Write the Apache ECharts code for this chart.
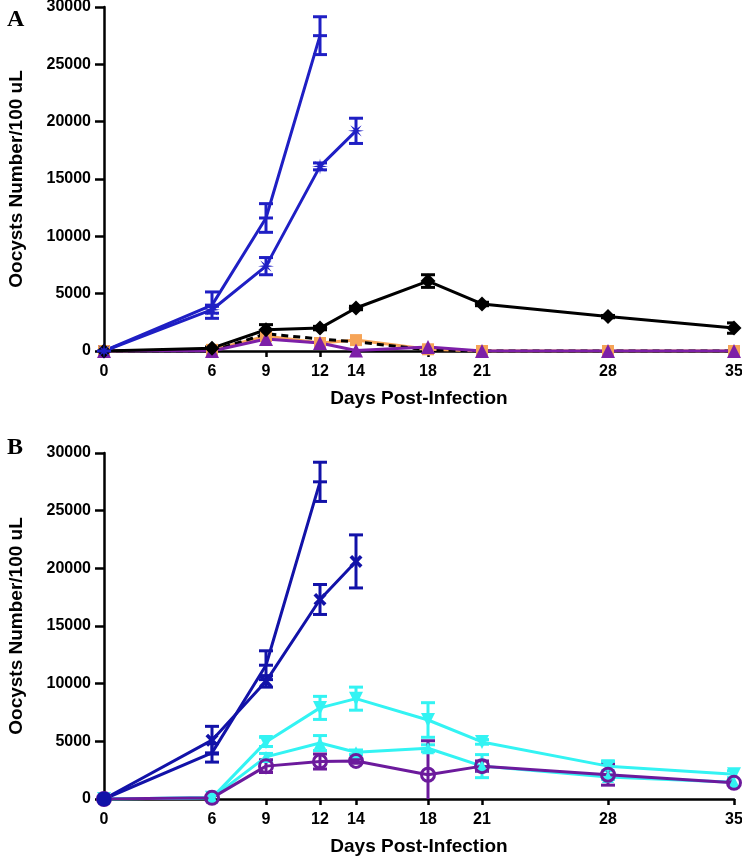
<!DOCTYPE html>
<html><head><meta charset="utf-8">
<script src="https://cdn.jsdelivr.net/npm/echarts@6/dist/echarts.min.js"></script>
<style>html,body{margin:0;padding:0;background:#fff}#c{width:742px;height:856px}</style>
</head><body><div id="c"></div>
<script>
const days = [0, 6, 9, 12, 14, 18, 21, 28, 35];
const xTickLabels = [0, 6, 9, 12, 14, 18, 21, 28, 35];

// Panel A
const aBlue1 = [0, 4000, 11600, 27500];
const aBlue1Err = [0, 1150, 1250, 1650];
const aBlue2 = [0, 3600, 7400, 16100, 19200];
const aBlue2Err = [0, 300, 750, 300, 1100];
const aBlack = [0, 250, 1850, 2000, 3750, 6100, 4100, 3000, 2000];
const aBlackErr = [0, 100, 450, 150, 150, 550, 150, 100, 450];
const aBlackDash = [0, 0, 1500, 1050, 800, 100, 0, 0, 0];
const aOrange = [0, 100, 1300, 700, 950, 150, 0, 0, 0];
const aPurple = [0, 0, 1050, 700, 50, 350, 0, 0, 0];

// Panel B
const bBlue1 = [0, 4000, 11600, 27500];
const bBlue1Err = [0, 800, 1250, 1700];
const bBlue2 = [0, 5100, 10200, 17300, 20600];
const bBlue2Err = [0, 1200, 500, 1300, 2300];
const bCyan1 = [0, 100, 4950, 7900, 8700, 6850, 4950, 2850, 2150];
const bCyan1Err = [0, 0, 400, 1000, 1000, 1500, 200, 400, 300];
const bCyan2 = [0, 100, 3650, 4850, 4050, 4400, 2850, 1900, 1450];
const bCyan2Err = [0, 0, 300, 650, 200, 300, 1000, 200, 150];
const bPurple = [0, 100, 2850, 3250, 3300, 2100, 2850, 2100, 1400];
const bPurpleErr = [0, 0, 550, 650, 200, 2950, 450, 900, 150];

const BLUE_A = '#1f1fc4', BLUE_B = '#1212a8', BLACK = '#000000',
      ORANGE = '#f6a457', PURPLE_A = '#7d1fa8', CYAN = '#33f3f3', PURPLE_B = '#6c1a9c';

const X_PATH = 'path://M0,2 L2,0 L5,3 L8,0 L10,2 L7,5 L10,8 L8,10 L5,7 L2,10 L0,8 L3,5 Z';
function starPath(){
  let s = 'path://';
  for (let i = 0; i < 16; i++) {
    const r = i % 2 === 0 ? 10 : 3;
    const a = Math.PI * i / 8 - Math.PI / 2;
    s += (i === 0 ? 'M' : 'L') + (10 + r * Math.cos(a)).toFixed(2) + ',' + (10 + r * Math.sin(a)).toFixed(2) + ' ';
  }
  return s + 'Z';
}
const STAR_PATH = starPath();

function pts(vals){
  const out = [];
  vals.forEach((v, i) => { if (v != null) out.push([days[i], v]); });
  return out;
}
function lineSeries(g, vals, color, symbol, size, extra){
  return Object.assign({
    type: 'line', xAxisIndex: g, yAxisIndex: g, data: pts(vals),
    symbol: symbol, symbolSize: size, showSymbol: symbol !== 'none',
    lineStyle: { color: color, width: 3 },
    itemStyle: { color: color, borderColor: color, borderWidth: 0 },
    animation: false, z: 3
  }, extra || {});
}
function errSeries(g, vals, errs, color){
  const data = [];
  vals.forEach((v, i) => { if (v != null && errs[i] > 0) data.push([days[i], v - errs[i], v + errs[i]]); });
  return {
    type: 'custom', xAxisIndex: g, yAxisIndex: g, data: data, clip: true, animation: false, z: 3,
    renderItem: function(params, api){
      const x = api.value(0);
      const lo = api.coord([x, api.value(1)]);
      const hi = api.coord([x, api.value(2)]);
      const w = 7;
      const st = { stroke: color, lineWidth: 3 };
      return { type: 'group', children: [
        { type: 'line', shape: { x1: lo[0], y1: lo[1], x2: hi[0], y2: hi[1] }, style: st },
        { type: 'line', shape: { x1: hi[0] - w, y1: hi[1], x2: hi[0] + w, y2: hi[1] }, style: st },
        { type: 'line', shape: { x1: lo[0] - w, y1: lo[1], x2: lo[0] + w, y2: lo[1] }, style: st }
      ]};
    }
  };
}

const FONT = 'Liberation Sans, Arial, sans-serif';
function xAxis(g){
  return {
    type: 'value', gridIndex: g, min: 0, max: 35,
    name: 'Days Post-Infection', nameLocation: 'middle', nameGap: 38,
    nameTextStyle: { fontFamily: FONT, fontWeight: 'bold', fontSize: 19, color: '#000' },
    axisLine: { show: true, onZero: false, lineStyle: { color: '#000', width: 2.5 } },
    axisTick: { show: true, length: 6, customValues: xTickLabels, lineStyle: { color: '#000', width: 2.5 } },
    axisLabel: { customValues: xTickLabels, formatter: v => String(v), fontFamily: FONT, fontWeight: 'bold', fontSize: 16, color: '#000', margin: 13 },
    splitLine: { show: false }
  };
}
function yAxis(g){
  return {
    type: 'value', gridIndex: g, min: 0, max: 30000, interval: 5000,
    name: 'Oocysts Number/100 uL', nameLocation: 'middle', nameGap: 78,
    nameTextStyle: { fontFamily: FONT, fontWeight: 'bold', fontSize: 19, color: '#000' },
    axisLine: { show: true, lineStyle: { color: '#000', width: 2.5 } },
    axisTick: { show: true, length: 9, lineStyle: { color: '#000', width: 2.5 } },
    axisLabel: { formatter: v => String(v), fontFamily: FONT, fontWeight: 'bold', fontSize: 16, color: '#000', margin: 13 },
    splitLine: { show: false }
  };
}

const option = {
  backgroundColor: '#fff',
  animation: false,
  title: [
    { text: 'A', left: 2, top: 3, textStyle: { fontFamily: 'Liberation Serif, Times New Roman, serif', fontWeight: 'bold', fontSize: 24, color: '#000' } },
    { text: 'B', left: 2, top: 431, textStyle: { fontFamily: 'Liberation Serif, Times New Roman, serif', fontWeight: 'bold', fontSize: 24, color: '#000' } }
  ],
  grid: [
    { left: 104, right: 8, top: 7, height: 344, outerBoundsMode: 'none', containLabel: false },
    { left: 104, right: 8, top: 453, height: 346, outerBoundsMode: 'none', containLabel: false }
  ],
  xAxis: [xAxis(0), xAxis(1)],
  yAxis: [yAxis(0), yAxis(1)],
  series: [
    // Panel A
    lineSeries(0, aOrange, ORANGE, 'rect', 12),
    lineSeries(0, aBlackDash, BLACK, 'none', 0, { lineStyle: { color: BLACK, width: 3, type: [7, 5] } }),
    lineSeries(0, aPurple, PURPLE_A, 'triangle', 14),
    lineSeries(0, aBlack, BLACK, 'diamond', 15),
    errSeries(0, aBlack, aBlackErr, BLACK),
    lineSeries(0, aBlue2, BLUE_A, STAR_PATH, 16),
    errSeries(0, aBlue2, aBlue2Err, BLUE_A),
    lineSeries(0, aBlue1, BLUE_A, 'rect', [14, 3]),
    errSeries(0, aBlue1, aBlue1Err, BLUE_A),
    // Panel B
    lineSeries(1, bCyan1, CYAN, 'triangle', 14, { symbolRotate: 180 }),
    errSeries(1, bCyan1, bCyan1Err, CYAN),
    lineSeries(1, bCyan2, CYAN, 'triangle', 12),
    errSeries(1, bCyan2, bCyan2Err, CYAN),
    lineSeries(1, bPurple, PURPLE_B, 'circle', 13, { itemStyle: { color: 'rgba(255,255,255,0)', borderColor: PURPLE_B, borderWidth: 3 } }),
    errSeries(1, bPurple, bPurpleErr, PURPLE_B),
    lineSeries(1, bBlue2, BLUE_B, X_PATH, 13),
    errSeries(1, bBlue2, bBlue2Err, BLUE_B),
    lineSeries(1, bBlue1, BLUE_B, 'rect', [14, 3]),
    errSeries(1, bBlue1, bBlue1Err, BLUE_B),
    lineSeries(1, [0], BLUE_B, 'circle', 15)
  ]
};
echarts.init(document.getElementById('c'), null, { renderer: 'canvas' }).setOption(option);
</script>
</body></html>
